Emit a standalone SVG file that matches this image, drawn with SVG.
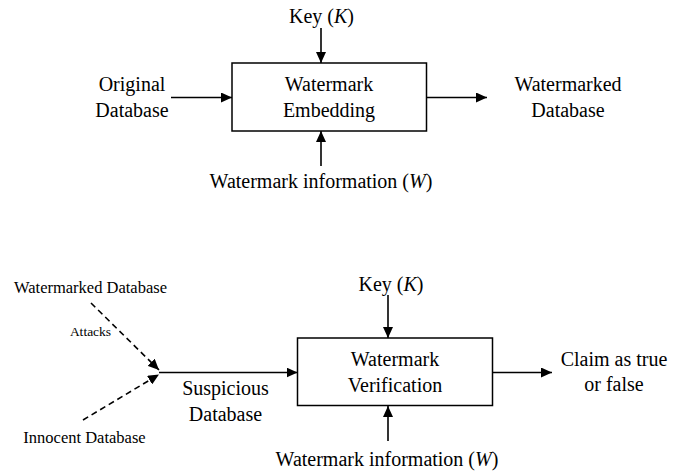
<svg xmlns="http://www.w3.org/2000/svg" width="673" height="476" viewBox="0 0 673 476">
<style>
.box{fill:#fff;stroke:#000;stroke-width:1.5}
.ln{fill:none;stroke:#000;stroke-width:1.6;marker-end:url(#ah)}
.dl{fill:none;stroke:#000;stroke-width:1.6;stroke-dasharray:6 4;marker-end:url(#ah)}
</style>
<defs>
<marker id="ah" markerUnits="userSpaceOnUse" markerWidth="12" markerHeight="10" refX="11" refY="5" orient="auto">
<path d="M0,0 L11,5 L0,10 Z" fill="#000"/>
</marker>
</defs>
<g id="connectors">
<line class="ln" x1="321" y1="28" x2="321" y2="63"/>
<line class="ln" x1="171" y1="97.5" x2="232" y2="97.5"/>
<line class="ln" x1="321" y1="166" x2="321" y2="131"/>
<line class="ln" x1="426.5" y1="97.5" x2="487" y2="97.5"/>
<line class="dl" x1="91" y1="303" x2="159" y2="370"/>
<line class="dl" x1="83" y1="420" x2="159" y2="374.5"/>
<line class="ln" x1="159" y1="372.5" x2="297.5" y2="372.5"/>
<line class="ln" x1="388" y1="295" x2="388" y2="338"/>
<line class="ln" x1="388" y1="441" x2="388" y2="406"/>
<line class="ln" x1="492.5" y1="372.5" x2="552" y2="372.5"/>
</g>
<g font-family="Liberation Serif, Times New Roman, serif" font-size="20" text-anchor="middle" fill="#000">
<g id="embed">
<rect class="box" x="232" y="63" width="194.5" height="68"/>
<text x="329" y="91">Watermark</text>
<text x="329" y="117">Embedding</text>
</g>
<g id="key1"><text x="321.5" y="23">Key (<tspan font-style="italic">K</tspan>)</text></g>
<g id="orig"><text x="132" y="91">Original</text><text x="132" y="117">Database</text></g>
<g id="wm1"><text x="321" y="188">Watermark information (<tspan font-style="italic">W</tspan>)</text></g>
<g id="wmdb"><text x="568" y="91">Watermarked</text><text x="568" y="117">Database</text></g>
<g id="verify">
<rect class="box" x="297.5" y="338" width="195" height="67.5"/>
<text x="395" y="366">Watermark</text>
<text x="395" y="392">Verification</text>
</g>
<g id="key2"><text x="391" y="291">Key (<tspan font-style="italic">K</tspan>)</text></g>
<g id="wm2"><text x="387" y="466">Watermark information (<tspan font-style="italic">W</tspan>)</text></g>
<g id="claim"><text x="614" y="366">Claim as true</text><text x="614" y="391">or false</text></g>
<g id="susp"><text x="225.5" y="395">Suspicious</text><text x="225.5" y="421">Database</text></g>
<g id="wmdb2"><text font-size="16.5" x="90.5" y="293">Watermarked Database</text></g>
<g id="attacks"><text font-size="13.5" x="90.5" y="336">Attacks</text></g>
<g id="innocent"><text font-size="16.5" x="84.5" y="443">Innocent Database</text></g>
</g>
</svg>
